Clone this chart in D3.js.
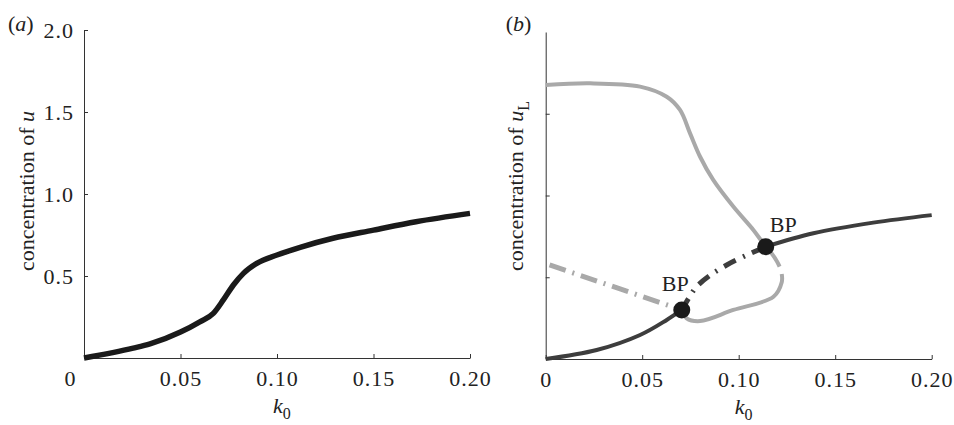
<!DOCTYPE html>
<html>
<head>
<meta charset="utf-8">
<script src="https://cdn.jsdelivr.net/npm/d3@7"></script>
<style>
  body { margin: 0; background: #fff; }
  svg text { font-family: "Liberation Serif", "Times New Roman", Times, serif; fill: #222; }
</style>
</head>
<body>
<div id="chart"></div>
<script>
// panel (a): concentration of u against k0
var kA = [0, 0.0255, 0.0342, 0.05, 0.060, 0.067, 0.0722, 0.0774, 0.0826, 0.0895, 0.10, 0.112, 0.129, 0.15, 0.172, 0.20];
var uA = [0, 0.060, 0.086, 0.158, 0.221, 0.272, 0.354, 0.445, 0.516, 0.577, 0.628, 0.675, 0.73, 0.78, 0.831, 0.882];

// panel (b): branches of u_L
var lowK = [0, 0.0264, 0.0489, 0.0627, 0.0705];
var lowU = [0, 0.055, 0.147, 0.239, 0.30];
var midK = [0.0705, 0.0745, 0.078, 0.085, 0.0938, 0.105, 0.114];
var midU = [0.30, 0.38, 0.44, 0.51, 0.575, 0.64, 0.687];
var highK = [0.114, 0.1387, 0.1697, 0.20];
var highU = [0.687, 0.769, 0.834, 0.88];
var topK = [0, 0.023, 0.0489, 0.0627, 0.0696, 0.0748, 0.080, 0.0868, 0.0972, 0.1076, 0.1127, 0.1165, 0.1197, 0.1212];
var topU = [1.676, 1.686, 1.666, 1.604, 1.523, 1.380, 1.237, 1.095, 0.932, 0.789, 0.708, 0.655, 0.600, 0.565];
var loopK = [0.1223, 0.1223, 0.118, 0.0972, 0.080, 0.073, 0.0705];
var loopU = [0.52, 0.47, 0.381, 0.30, 0.232, 0.249, 0.30];
var unstK = [0.002, 0.0705];
var unstU = [0.575, 0.30];
var bpK = [0.0705, 0.114];
var bpU = [0.30, 0.687];

var xTicks = [0, 0.05, 0.10, 0.15, 0.20];
var xTickLabels = ["0", "0.05", "0.10", "0.15", "0.20"];
var yTicks = [0.5, 1.0, 1.5, 2.0];
var yTickLabels = ["0.5", "1.0", "1.5", "2.0"];

var W = 954, H = 425;
var svg = d3.select("#chart").append("svg")
    .attr("width", W)
    .attr("height", H);

var fontSize = 22;

function zip(ks, us) { return ks.map(function(k, i) { return [k, us[i]]; }); }

function panel(left, right, top, bottom, letter, yLabelTail, showYLabels, yLabelOffset, yLabelMid) {
    var x = d3.scaleLinear().domain([0, 0.2]).range([left, right]);
    var y = d3.scaleLinear().domain([0, 2]).range([bottom, top]);

    // x axis (ticks point inward)
    var gx = svg.append("g")
        .attr("transform", "translate(0," + bottom + ")")
        .call(d3.axisBottom(x).tickValues(xTicks)
            .tickFormat(function(d, i) { return xTickLabels[i]; })
            .tickSizeInner(-4).tickSizeOuter(0).tickPadding(12));
    gx.selectAll("text").style("font-size", fontSize + "px").style("letter-spacing", "1px");

    // y axis
    var gy = svg.append("g")
        .attr("transform", "translate(" + left + ",0)")
        .call(d3.axisLeft(y).tickValues(showYLabels ? yTicks : yTicks.slice(0, 3))
            .tickFormat(function(d, i) { return showYLabels ? yTickLabels[i] : ""; })
            .tickSizeInner(-4).tickSizeOuter(0).tickPadding(10));
    gy.selectAll("text").style("font-size", fontSize + "px").style("letter-spacing", "1px");

    svg.selectAll(".domain").attr("stroke", "#333");
    svg.selectAll(".tick line").attr("stroke", "#333");

    // panel letter
    var pl = svg.append("text")
        .attr("x", left - (letter == "a" ? 76 : 40))
        .attr("y", 31)
        .style("font-size", fontSize + "px");
    pl.append("tspan").text("(");
    pl.append("tspan").style("font-style", "italic").text(letter);
    pl.append("tspan").text(")");

    // x label k0
    var xl = svg.append("text")
        .attr("x", (left + right) / 2 - 4)
        .attr("y", bottom + 55)
        .style("font-size", fontSize + "px");
    xl.append("tspan").style("font-style", "italic").text("k");
    xl.append("tspan").attr("dy", 6).style("font-size", "16px").text("0");

    // y label
    var yl = svg.append("text")
        .attr("transform", "translate(" + (left - yLabelOffset) + "," + yLabelMid + ") rotate(-90)")
        .attr("text-anchor", "middle")
        .style("font-size", fontSize + "px");
    yl.append("tspan").text("concentration of ");
    yl.append("tspan").style("font-style", "italic").text("u");
    if (yLabelTail) {
        yl.append("tspan").attr("dy", 6).style("font-size", "16px").text(yLabelTail);
    }

    return {x: x, y: y, gx: gx};
}

var lineGen = function(p, curve) {
    return d3.line()
        .x(function(d) { return p.x(d[0]); })
        .y(function(d) { return p.y(d[1]); })
        .curve(curve);
};

// ---- panel (a)
var pa = panel(84, 470, 30, 358, "a", null, true, 50, 191);
pa.gx.selectAll(".tick text").filter(function(d) { return d === 0; }).attr("dx", -14);

svg.append("path")
    .attr("d", lineGen(pa, d3.curveMonotoneX)(zip(kA, uA)))
    .attr("fill", "none")
    .attr("stroke", "#1a1a1a")
    .attr("stroke-width", 5.5);

// ---- panel (b)
var pb = panel(545.7, 931.7, 32, 359, "b", "L", false, 22.5, 186);

var dark = "#3d3d3d", light = "#a9a9a9";

function branch(ks, us, color, width, dash) {
    svg.append("path")
        .attr("d", lineGen(pb, d3.curveCatmullRom.alpha(0.5))(zip(ks, us)))
        .attr("fill", "none")
        .attr("stroke", color)
        .attr("stroke-width", width)
        .attr("stroke-dasharray", dash || null);
}

branch(topK, topU, light, 4);
branch(loopK, loopU, light, 4);
branch(unstK, unstU, light, 5, "17,7,2,7");
branch(lowK, lowU, dark, 4);
branch(midK, midU, dark, 5, "13,8,2,8");
branch(highK, highU, dark, 4);

svg.selectAll(".bp")
    .data(zip(bpK, bpU))
    .enter()
    .append("circle")
    .attr("class", "bp")
    .attr("cx", function(d) { return pb.x(d[0]); })
    .attr("cy", function(d) { return pb.y(d[1]); })
    .attr("r", 8.5)
    .attr("fill", "#1a1a1a");

svg.selectAll(".bpl")
    .data(zip(bpK, bpU))
    .enter()
    .append("text")
    .attr("class", "bpl")
    .attr("x", function(d, i) { return pb.x(d[0]) + (i == 0 ? -20 : 4); })
    .attr("y", function(d, i) { return pb.y(d[1]) + (i == 0 ? -19 : -15); })
    .style("font-size", fontSize + "px")
    .text("BP");
</script>
</body>
</html>
